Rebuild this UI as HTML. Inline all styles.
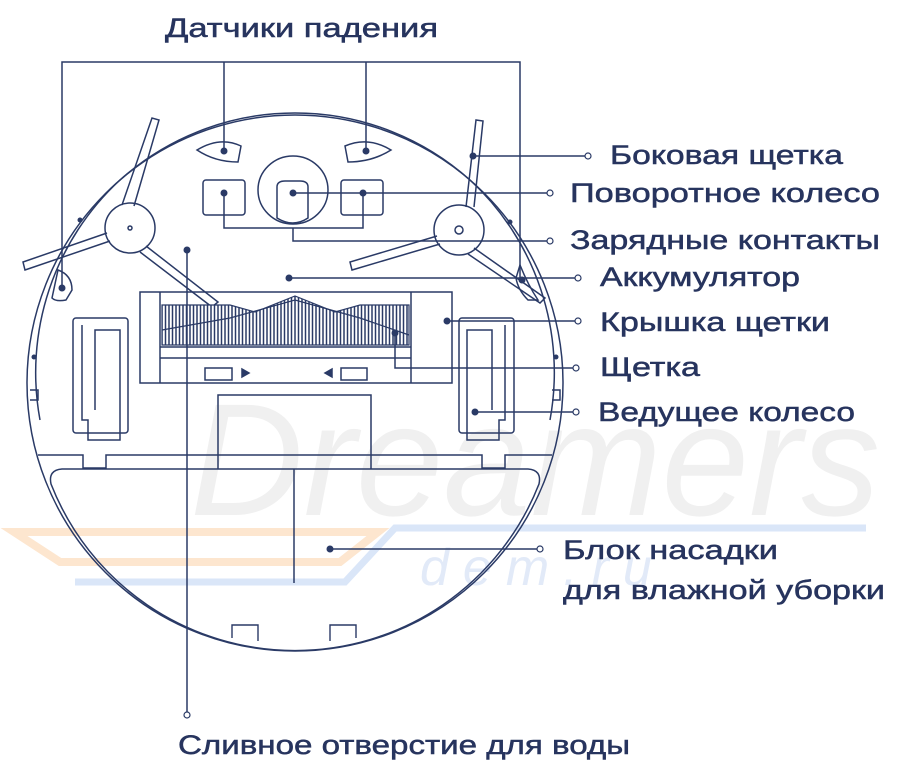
<!DOCTYPE html>
<html><head><meta charset="utf-8"><style>
html,body{margin:0;padding:0;background:#fff;}
svg{display:block;}
text{font-family:"Liberation Sans",sans-serif;fill:#27345e;font-size:27px;stroke:#27345e;stroke-width:0.5;}
</style></head><body>
<svg width="900" height="770" viewBox="0 0 900 770" xmlns="http://www.w3.org/2000/svg">
<defs>
<pattern id="br" width="3.5" height="10" patternUnits="userSpaceOnUse"><rect width="3.5" height="10" fill="#fff"/><line x1="1" y1="0" x2="1" y2="10" stroke="#2a3a66" stroke-width="1.5"/></pattern>
</defs>
<!-- watermark -->
<text x="190" y="515" style="font-size:160px;font-style:italic;fill:#f0f0f0;stroke:none" textLength="690" lengthAdjust="spacingAndGlyphs">Dreamers</text>
<g fill="none" stroke-linejoin="miter">
<polygon points="14,532 378,532 340,562 60,562" stroke="#fde6cf" stroke-width="8"/>
<polyline points="75,582 345,582 395,528 866,528" stroke="#dae6f8" stroke-width="7"/>
</g>
<text x="420" y="585" style="font-size:52px;font-style:italic;fill:#e2eaf8;stroke:none;letter-spacing:14px">dem.ru</text>

<g fill="none" stroke="#2a3a66" stroke-width="1.5">
<!-- outer body -->
<circle cx="295" cy="383" r="268" fill="none"/>
<path d="M40,420 A262,262 0 0 1 120,180 A262,262 0 0 1 470,180 A262,262 0 0 1 550,420"/>
<path d="M30,390 h8 v10 h-8 M552,390 h8 v10 h-8"/>
<!-- mop -->
<path d="M38,455 H83 V468 H106 V455 H482 V468 H505 V455 H552"/>
<path d="M62,469 H528 Q542,470 539,484 A262,262 0 0 1 51,484 Q48,470 62,469 Z"/>
<path d="M232,638 V625 H258 V641 M330,641 V625 H356 V638" stroke-width="1.4"/>
<!-- sensors -->
<path d="M197,150 Q220,136 241,146 L238,162 Q215,162 197,150 Z"/>
<path d="M345,146 Q368,136 391,150 Q372,162 348,162 Z"/>
<path d="M58,270 Q72,275 72,290 L66,300 Q56,302 52,298 Z"/>
<path d="M520,265 Q528,285 538,300 L528,300 Q518,290 516,278 Z"/>
<!-- squares -->
<rect x="203" y="180" width="42" height="35" rx="3"/>
<rect x="341" y="180" width="42" height="35" rx="3"/>
<ellipse cx="293" cy="190" rx="35" ry="34"/>
<path d="M277,187 Q277,181 285,181 H300 Q308,181 308,187 V218 Q293,228 277,218 Z"/>
<!-- brush box -->
<rect x="140" y="292" width="312" height="91"/>
<line x1="160" y1="292" x2="160" y2="383"/>
<line x1="411" y1="292" x2="411" y2="383"/>
<line x1="160" y1="347" x2="411" y2="347"/>
<line x1="160" y1="358" x2="411" y2="358"/>
<rect x="205" y="368" width="27" height="12"/>
<rect x="341" y="368" width="26" height="12"/>
<path d="M242,369 l7,4 l-7,4 Z M332,369 l-7,4 l7,4 Z" fill="#2a3a66"/>
<!-- suction -->
<path d="M218,469 V395 H371 V469"/>
<!-- wheels -->
<rect x="73" y="318" width="55" height="115" rx="3"/>
<path d="M82,325 V420 H88 V440 H120 V330 H95 V410"/>
<rect x="459" y="318" width="55" height="115" rx="3"/>
<path d="M505,325 V420 H499 V440 H467 V330 H492 V410"/>
<!-- side brushes -->
<circle cx="130" cy="228" r="25" fill="#fff"/>
<path d="M122,205 L152,118 L159,120 L134,206 M110,241 L25,270 L23,262 L107,233 M146,246 L218,302 L212,307 L140,252"/>
<circle cx="130" cy="228" r="2"/>
<circle cx="459" cy="230" r="25" fill="#fff"/>
<path d="M466,207 L476,120 L483,121 L474,207 M440,244 L352,270 L350,262 L437,236 M474,248 L545,298 L540,303 L468,254"/>
<circle cx="459" cy="230" r="4"/>
</g>
<!-- brush bristles -->
<path d="M162,305 H230 L255,312 L295,296 L335,312 L360,305 H409 V345 H162 Z" fill="url(#br)" stroke="#2a3a66" stroke-width="1.2"/>
<path d="M162,330 L230,318 L295,300 L360,318 L409,335" fill="none" stroke="#2a3a66" stroke-width="1.2"/>

<!-- leader lines -->
<g fill="none" stroke="#2a3a66" stroke-width="1.5">
<path d="M62,288 V62 H520 V280"/>
<path d="M224,62 V151 M366,62 V151"/>
<path d="M224,193 V228 H363 V193 M293,228 V241 H550"/>
<path d="M293,193 H550"/>
<path d="M473,156 H588"/>
<path d="M289,278 H578"/>
<path d="M447,321 H578"/>
<path d="M395,333 V368 H576"/>
<path d="M475,412 H576"/>
<path d="M187,250 V712"/>
<path d="M294,469 V583"/>
<path d="M330,549 H537"/>
</g>
<g fill="#2a3a66">
<circle cx="62" cy="288" r="3.5"/><circle cx="522" cy="280" r="3.5"/>
<circle cx="224" cy="151" r="3.5"/><circle cx="366" cy="151" r="3.5"/>
<circle cx="224" cy="193" r="3.5"/><circle cx="363" cy="193" r="3.5"/><circle cx="293" cy="193" r="3.5"/>
<circle cx="473" cy="156" r="3.5"/><circle cx="289" cy="278" r="3.5"/><circle cx="447" cy="321" r="3.5"/>
<circle cx="395" cy="333" r="3.5"/><circle cx="475" cy="412" r="3.5"/><circle cx="187" cy="250" r="3.5"/>
<circle cx="330" cy="549" r="3.5"/>
<circle cx="80" cy="220" r="2.5"/><circle cx="510" cy="222" r="2.5"/>
<circle cx="34" cy="357" r="2.5"/><circle cx="556" cy="357" r="2.5"/>
</g>
<g fill="#fff" stroke="#2a3a66" stroke-width="1.2">
<circle cx="588" cy="156" r="3"/><circle cx="550" cy="193" r="3"/><circle cx="550" cy="241" r="3"/>
<circle cx="578" cy="278" r="3"/><circle cx="578" cy="321" r="3"/><circle cx="576" cy="368" r="3"/>
<circle cx="576" cy="412" r="3"/><circle cx="540" cy="549" r="3"/><circle cx="187" cy="715" r="3"/>
</g>

<g dominant-baseline="central">
<text x="165" y="28" textLength="273" lengthAdjust="spacingAndGlyphs">Датчики падения</text>
<text x="610" y="155" textLength="233" lengthAdjust="spacingAndGlyphs">Боковая щетка</text>
<text x="570" y="193" textLength="310" lengthAdjust="spacingAndGlyphs">Поворотное колесо</text>
<text x="570" y="240" textLength="310" lengthAdjust="spacingAndGlyphs">Зарядные контакты</text>
<text x="600" y="277" textLength="200" lengthAdjust="spacingAndGlyphs">Аккумулятор</text>
<text x="600" y="322" textLength="230" lengthAdjust="spacingAndGlyphs">Крышка щетки</text>
<text x="600" y="367" textLength="100" lengthAdjust="spacingAndGlyphs">Щетка</text>
<text x="598" y="412" textLength="257" lengthAdjust="spacingAndGlyphs">Ведущее колесо</text>
<text x="563" y="550" textLength="215" lengthAdjust="spacingAndGlyphs">Блок насадки</text>
<text x="563" y="590" textLength="322" lengthAdjust="spacingAndGlyphs">для влажной уборки</text>
<text x="178" y="745" textLength="452" lengthAdjust="spacingAndGlyphs">Сливное отверстие для воды</text>
</g>
</svg>
</body></html>
